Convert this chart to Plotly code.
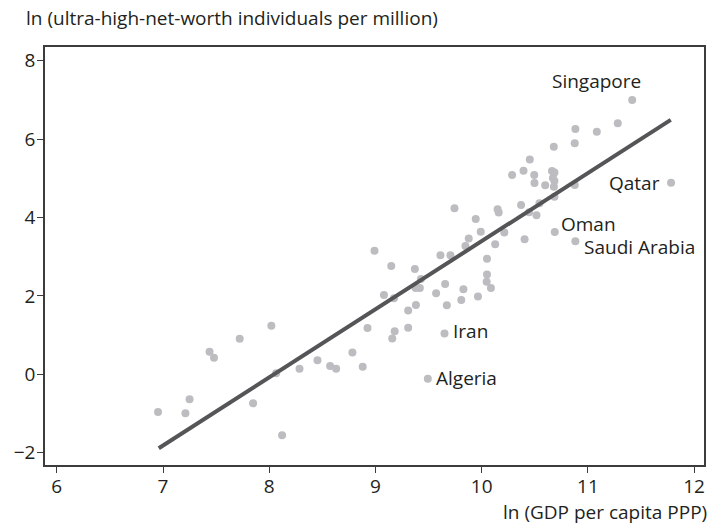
import plotly.graph_objects as go

# ln GDP per capita (PPP) and ln ultra-high-net-worth individuals per million
gdp_ln = [
    6.953, 7.211, 7.250, 7.438, 7.480, 7.722, 8.020, 7.848, 8.065, 8.121,
    8.285, 8.454, 8.573, 8.630, 8.783, 8.880, 8.925, 8.991, 9.080, 9.149,
    9.174, 9.181, 9.158, 9.308, 9.308, 9.371, 9.428, 9.378, 9.418, 9.381,
    9.571, 9.656, 9.672, 9.612, 9.706, 9.744, 9.808, 9.828, 9.847, 9.878,
    9.944, 9.965, 9.991, 10.050, 10.050, 10.047, 10.087, 10.127, 10.150, 10.160,
    10.213, 10.286, 10.371, 10.394, 10.404, 10.446, 10.453, 10.495, 10.497, 10.516,
    10.544, 10.662, 10.685, 10.671, 10.685, 10.598, 10.680, 10.685, 10.679, 10.876,
    10.882, 10.876, 11.084, 11.281,
]
uhnwi_ln = [
    -0.962, -0.995, -0.635, 0.574, 0.423, 0.908, 1.237, -0.740, 0.026, -1.556,
    0.143, 0.360, 0.212, 0.143, 0.556, 0.194, 1.181, 3.153, 2.023, 2.763,
    1.939, 1.099, 0.913, 1.189, 1.628, 2.686, 2.431, 2.202, 2.202, 1.768,
    2.066, 2.304, 1.760, 3.038, 3.038, 4.235, 1.895, 2.168, 3.273, 3.464,
    3.962, 1.985, 3.638, 2.949, 2.546, 2.362, 2.202, 3.316, 4.209, 4.128,
    3.617, 5.084, 4.319, 5.194, 3.446, 4.133, 5.480, 5.084, 4.880, 4.056,
    4.362, 5.186, 5.148, 5.008, 4.931, 4.821, 4.786, 4.531, 5.806, 5.893,
    6.258, 4.829, 6.189, 6.403,
]

# labelled countries
label_names = ["Singapore", "Qatar", "Oman", "Saudi Arabia", "Iran", "Algeria"]
label_gdp = [11.417, 11.783, 10.688, 10.882, 9.650, 9.493]
label_uhnwi = [6.997, 4.888, 3.630, 3.395, 1.041, -0.112]

# least-squares fit drawn across the observed GDP span
fit_slope = 1.738
fit_intercept = -13.983
fit_x = [6.96, 11.78]
fit_y = [fit_intercept + fit_slope * v for v in fit_x]

FONT = "Open Sans"
INK = "#231f20"
FS = 19

fig = go.Figure()
fig.add_trace(go.Scatter(
    x=gdp_ln + label_gdp, y=uhnwi_ln + label_uhnwi, mode="markers",
    marker=dict(size=8, color="#bdbdc1", line=dict(width=0)),
    showlegend=False, hoverinfo="skip",
))
fig.add_trace(go.Scatter(
    x=fit_x, y=fit_y, mode="lines",
    line=dict(color="#555557", width=4),
    showlegend=False, hoverinfo="skip",
))

# country label offsets (pixels) relative to their points
offsets = {
    "Singapore": dict(xanchor="center", xshift=-36, yshift=19),
    "Qatar": dict(xanchor="right", xshift=-9, yshift=0),
    "Oman": dict(xanchor="left", xshift=4, yshift=8),
    "Saudi Arabia": dict(xanchor="left", xshift=7, yshift=-6),
    "Iran": dict(xanchor="left", xshift=6, yshift=2),
    "Algeria": dict(xanchor="left", xshift=6, yshift=1),
}
for name, gx, uy in zip(label_names, label_gdp, label_uhnwi):
    fig.add_annotation(
        x=gx, y=uy, text=name, showarrow=False, yanchor="middle",
        font=dict(family=FONT, size=FS, color=INK), **offsets[name],
    )

fig.add_annotation(
    x=0, xref="paper", xanchor="left", xshift=-21,
    y=1, yref="paper", yanchor="bottom", yshift=14,
    text="ln (ultra-high-net-worth individuals per million)", showarrow=False,
    font=dict(family=FONT, size=FS, color=INK),
)
fig.add_annotation(
    x=1, xref="paper", xanchor="right", xshift=5,
    y=0, yref="paper", yanchor="top", yshift=-32,
    text="ln (GDP per capita PPP)", showarrow=False,
    font=dict(family=FONT, size=FS, color=INK),
)

axis_common = dict(
    showgrid=False, zeroline=False, showline=True, mirror=True,
    linecolor="#3c3c3c", linewidth=1.5,
    ticks="outside", ticklen=6, tickwidth=1.2, tickcolor="#3c3c3c",
    tickfont=dict(family=FONT, size=FS, color=INK),
)
fig.update_xaxes(range=[5.889, 12.093], tickvals=[6, 7, 8, 9, 10, 11, 12],
                 ticklabelstandoff=-3, **axis_common)
fig.update_yaxes(range=[-2.314, 8.35], tickvals=[-2, 0, 2, 4, 6, 8],
                 ticktext=["\u22122", "0", "2", "4", "6", "8"],
                 ticklabelstandoff=-2, **axis_common)

fig.update_layout(
    width=711, height=532,
    margin=dict(l=45, r=5, t=47, b=67),
    paper_bgcolor="white", plot_bgcolor="white",
)
fig.write_html("out.html")
